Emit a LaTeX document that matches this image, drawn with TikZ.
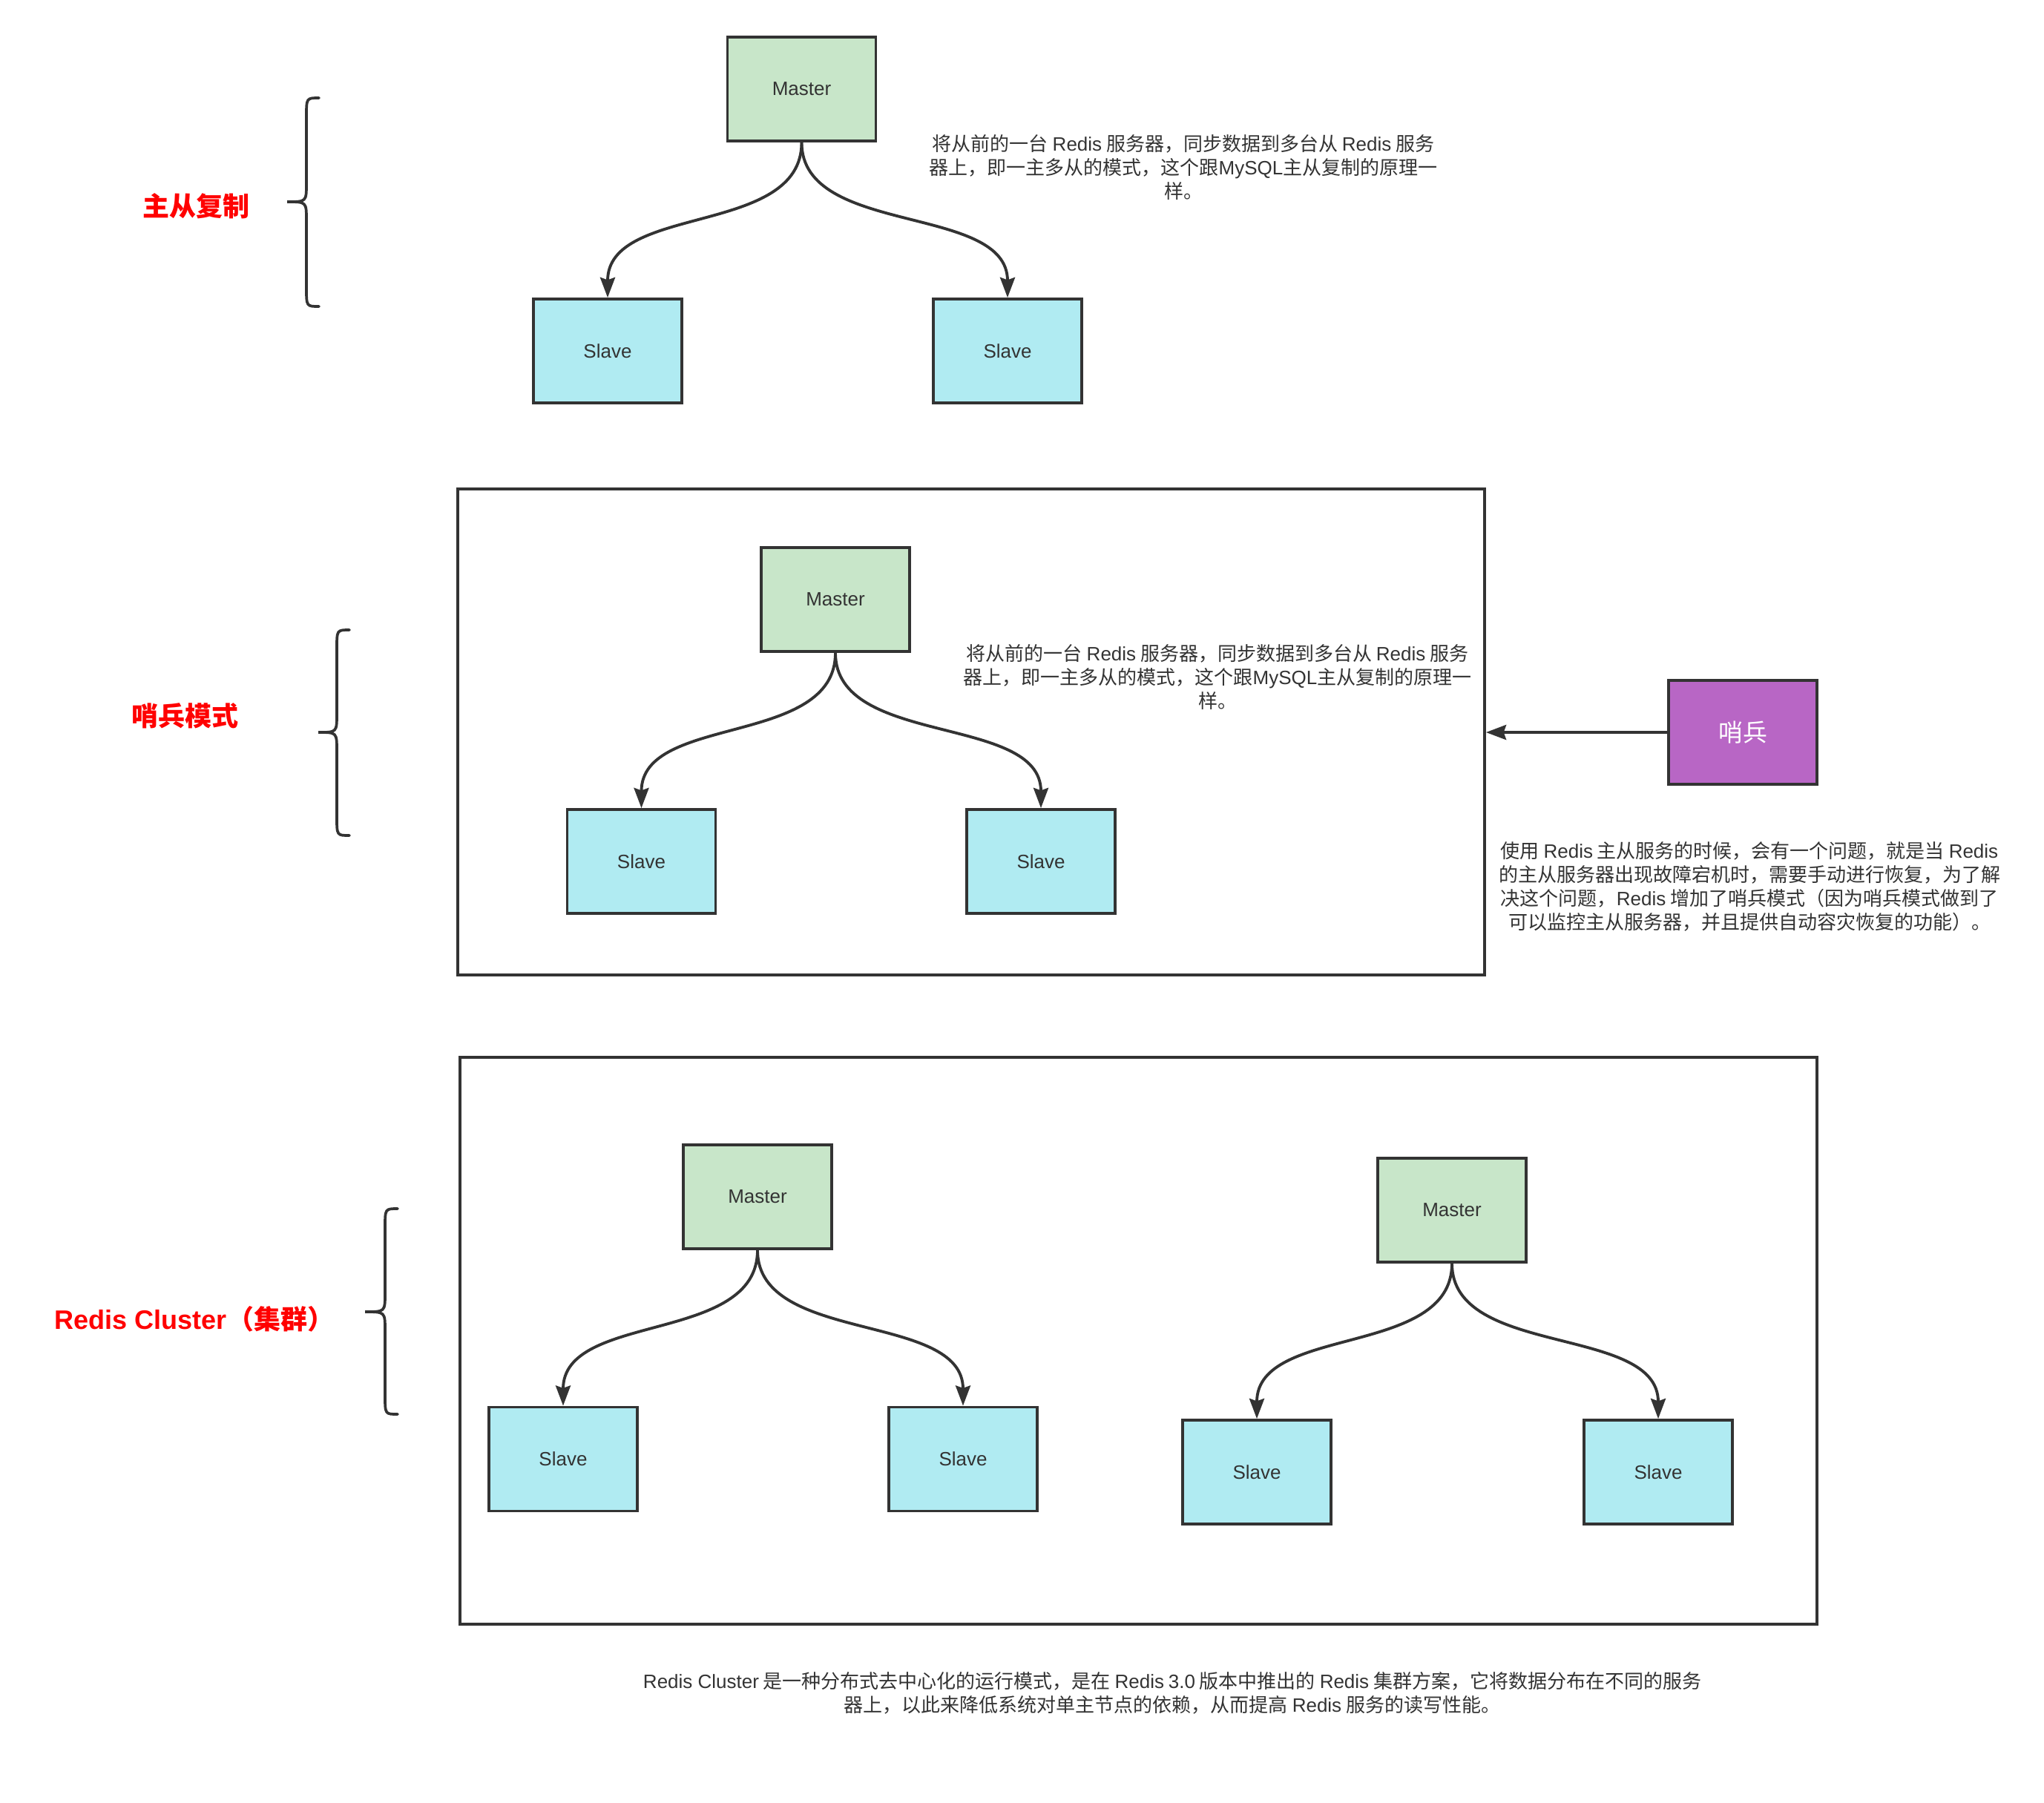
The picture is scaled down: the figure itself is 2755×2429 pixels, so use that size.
\documentclass[tikz,border=0pt]{standalone}
\usepackage{fontspec}
\setmainfont{Noto Sans CJK SC}
\newfontfamily\lat{Liberation Sans}
\usetikzlibrary{arrows.meta}
\definecolor{ink}{HTML}{333333}
\definecolor{mfill}{HTML}{C8E6C9}
\definecolor{sfill}{HTML}{B0EBF2}
\definecolor{pfill}{HTML}{B866C5}
\definecolor{lred}{HTML}{FF0000}
\newcommand\rds{{\lat Redis}}
\tikzset{
  box/.style={draw=ink, line width=1.35pt, minimum width=70pt, minimum height=49pt, inner sep=0pt,
    font=\lat\fontsize{9.1}{11}\selectfont, text=ink},
  masterbox/.style={box, fill=mfill},
  slavebox/.style={box, fill=sfill},
  frame/.style={draw=ink, line width=1.35pt, inner sep=0pt},
  arr/.style={draw=ink, line width=1.35pt, -{Stealth[length=9.5pt, width=7pt, inset=1.2pt]}},
  note/.style={align=center, inner sep=0pt, text=ink, font=\fontsize{9.1}{11.2}\selectfont},
  sect/.style={inner sep=0pt, text=lred, font=\bfseries\fontsize{12.6}{14}\selectfont},
  bracestyle/.style={draw=ink, line width=1.3pt, line cap=round}
}
\begin{document}
\begin{tikzpicture}[x=0.35pt, y=-0.35pt]
\useasboundingbox (0,0) rectangle (2755,2429);
\fill[white] (0,0) rectangle (2755,2429);

% ---------- section 1: master / slave replication ----------
\node[sect] (l1) at (264,278) {主从复制};
\draw[bracestyle] (430,132) .. controls (413,132) .. (413,157) -- (413,247)
  .. controls (413,272) .. (387,272) .. controls (413,272) .. (413,297) -- (413,388)
  .. controls (413,413) .. (430,413);
\node[masterbox] (m1) at (1080.5,120) {Master};
\node[slavebox] (s1a) at (819,473) {Slave};
\node[slavebox] (s1b) at (1358,473) {Slave};
\draw[arr] (m1.south) .. controls +(0,127) and +(0,-127) .. (s1a.north);
\draw[arr] (m1.south) .. controls +(0,127) and +(0,-127) .. (s1b.north);
\node[note] (t1) at (1595,226) {将从前的一台 \rds{} 服务器，同步数据到多台从 \rds{} 服务\\器上，即一主多从的模式，这个跟{\lat MySQL}主从复制的原理一\\样。};

% ---------- section 2: sentinel ----------
\node[sect] (l2) at (249,965) {哨兵模式};
\draw[bracestyle] (471,849) .. controls (454,849) .. (454,874) -- (454,962)
  .. controls (454,987) .. (429,987) .. controls (454,987) .. (454,1012) -- (454,1101)
  .. controls (454,1126) .. (471,1126);
\node[frame, minimum width=484.4pt, minimum height=229.25pt] (f2) at (1309,986.5) {};
\node[masterbox] (m2) at (1126,808) {Master};
\node[slavebox] (s2a) at (864.5,1161) {Slave};
\node[slavebox] (s2b) at (1403,1161) {Slave};
\draw[arr] (m2.south) .. controls +(0,127) and +(0,-127) .. (s2a.north);
\draw[arr] (m2.south) .. controls +(0,127) and +(0,-127) .. (s2b.north);
\node[note] (t2) at (1641,913) {将从前的一台 \rds{} 服务器，同步数据到多台从 \rds{} 服务\\器上，即一主多从的模式，这个跟{\lat MySQL}主从复制的原理一\\样。};
\node[box, fill=pfill, text=white, font=\fontsize{11.5}{13}\selectfont] (sen) at (2349,987) {哨兵};
\draw[arr] (sen.west) -- (sen.west -| f2.east);
\node[note] (t3) at (2358,1195) {使用 \rds{} 主从服务的时候，会有一个问题，就是当 \rds\\的主从服务器出现故障宕机时，需要手动进行恢复，为了解\\决这个问题，\rds{} 增加了哨兵模式（因为哨兵模式做到了\\可以监控主从服务器，并且提供自动容灾恢复的功能）。};

% ---------- section 3: cluster ----------
\node[sect] (l3) at (262,1778) {{\lat Redis Cluster}（集群）};
\draw[bracestyle] (536,1629) .. controls (519,1629) .. (519,1654) -- (519,1743)
  .. controls (519,1768) .. (492,1768) .. controls (519,1768) .. (519,1793) -- (519,1881)
  .. controls (519,1906) .. (536,1906);
\node[frame, minimum width=640.15pt, minimum height=267.4pt] (f3) at (1534.5,1807) {};
\node[masterbox] (m3) at (1021,1613) {Master};
\node[slavebox] (s3a) at (759,1966.5) {Slave};
\node[slavebox] (s3b) at (1298,1966.5) {Slave};
\draw[arr] (m3.south) .. controls +(0,127) and +(0,-127) .. (s3a.north);
\draw[arr] (m3.south) .. controls +(0,127) and +(0,-127) .. (s3b.north);
\node[masterbox] (m4) at (1957,1631) {Master};
\node[slavebox] (s4a) at (1694,1984) {Slave};
\node[slavebox] (s4b) at (2235,1984) {Slave};
\draw[arr] (m4.south) .. controls +(0,127) and +(0,-127) .. (s4a.north);
\draw[arr] (m4.south) .. controls +(0,127) and +(0,-127) .. (s4b.north);
\node[note] (t4) at (1580,2282) {{\lat Redis Cluster} 是一种分布式去中心化的运行模式，是在 \rds{} {\lat 3.0} 版本中推出的 \rds{} 集群方案，它将数据分布在不同的服务\\器上，以此来降低系统对单主节点的依赖，从而提高 \rds{} 服务的读写性能。};
\end{tikzpicture}
\end{document}
